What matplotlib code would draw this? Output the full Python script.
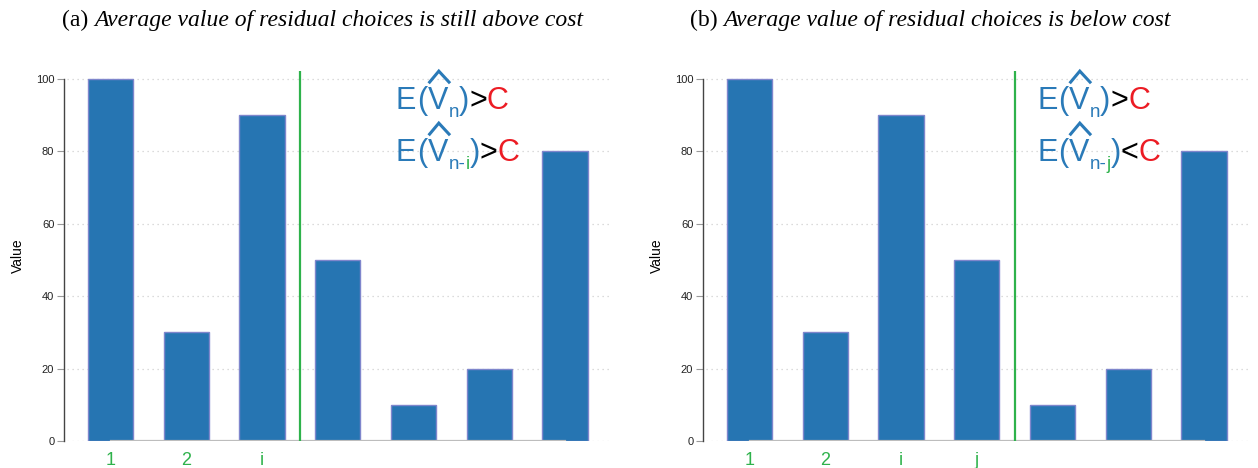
import matplotlib
matplotlib.use("Agg")
import matplotlib.pyplot as plt
from matplotlib.transforms import IdentityTransform
from matplotlib.lines import Line2D

# Values of the seven choices (same in both panels)
values_a = [100, 30, 90, 50, 10, 20, 80]
values_b = [100, 30, 90, 50, 10, 20, 80]
labels_a = ["1", "2", "i"]
labels_b = ["1", "2", "i", "j"]
cut_a = 2.5   # divider after the i-th choice
cut_b = 3.5   # divider after the j-th choice
yticks = [0, 20, 40, 60, 80, 100]

title_a = ("(a) ", "Average value of residual choices is still above cost")
title_b = ("(b) ", "Average value of residual choices is below cost")

BAR = "#2675b2"
EDGE = "#7f86cc"
GREEN = "#2eb24b"
BLUE = "#2a7ab8"
RED = "#ec1c24"

W, H, DPI = 1258, 468, 100
fig = plt.figure(figsize=(W / DPI, H / DPI), dpi=DPI)
plt.rcParams["font.family"] = ["Liberation Sans", "DejaVu Sans"]


def panel(left_px, values, labels, cut):
    ax = fig.add_axes([left_px / W, (H - 441) / H, 548 / W, 370 / H])
    x = list(range(len(values)))
    ax.bar(x, values, width=0.6, color=BAR, edgecolor=EDGE, linewidth=1.0, zorder=3)
    ax.set_xlim(-0.614, len(values) - 1 + 0.62)
    ax.set_ylim(0, 102.2)
    for v in yticks:
        ax.plot([-0.57, len(values) - 1 + 0.62], [v, v], ls=(0, (1, 3)),
                color="#d0d0d0", lw=0.9, zorder=1)
    ax.plot([0, len(values) - 1], [0, 0], color="#bdbdbd", lw=1.6, zorder=4)
    ax.axvline(cut, color=GREEN, lw=1.6, zorder=5)
    for s in ["top", "right", "bottom"]:
        ax.spines[s].set_visible(False)
    ax.spines["left"].set_bounds(0, 100)
    ax.spines["left"].set_color("#444444")
    ax.spines["left"].set_linewidth(1.0)
    ax.set_yticks(yticks)
    ax.tick_params(axis="y", length=5, width=0.8, color="#999999",
                   labelsize=8, labelcolor="#222222", pad=2)
    ax.set_xticks(range(len(labels)))
    ax.set_xticklabels(labels, color=GREEN, fontsize=13)
    ax.tick_params(axis="x", length=0, pad=8)
    ax.set_ylabel("Value", fontsize=10, labelpad=8)
    return ax


panel(64, values_a, labels_a, cut_a)
panel(703, values_b, labels_b, cut_b)

fig.canvas.draw()
renderer = fig.canvas.get_renderer()
ident = IdentityTransform()


def chain(x, y_top, pieces, family):
    """Draw text pieces one after another on a common baseline (pixel coords from top)."""
    placed = []
    for text, color, size, drop, style, kern in pieces:
        t = fig.text(x, H - (y_top + drop), text, transform=ident, fontsize=size,
                     color=color, va="baseline", ha="left", style=style,
                     family=family)
        bb = t.get_window_extent(renderer)
        placed.append((t, bb))
        x = bb.x1 + kern
    return placed


SERIF = ["Liberation Serif", "DejaVu Serif"]
SANS = ["Liberation Sans", "DejaVu Sans"]

for x0, (head, rest) in [(62, title_a), (690, title_b)]:
    chain(x0, 26, [(head, "black", 17, 0, "normal", 0),
                   (rest, "black", 17, 0, "italic", 0)], SERIF)


def formula(x0, base, sub_parts, rel):
    big = 22
    pieces = [("E", BLUE, big, 0, "normal", 1),
              ("(", BLUE, big, 0, "normal", 0),
              ("V", BLUE, big, 0, "normal", 0.5)]
    for txt, col in sub_parts:
        pieces.append((txt, col, 13.5, 8, "normal", 0))
    pieces += [(")", BLUE, big, 0, "normal", 0),
               (rel, "black", big, 0, "normal", 0),
               ("C", RED, big, 0, "normal", 0)]
    placed = chain(x0, base, pieces, SANS)
    vbb = placed[2][1]
    cap_top = H - base + 0.716 * big * DPI / 72
    y0 = cap_top + 5
    fig.add_artist(Line2D([vbb.x0 + 2, (vbb.x0 + vbb.x1) / 2 + 1, vbb.x1 + 1],
                          [y0, y0 + 11, y0], color=BLUE, lw=2.2,
                          transform=ident, solid_joinstyle="miter"))


formula(396, 109, [("n", BLUE)], ">")
formula(396, 161, [("n-", BLUE), ("i", GREEN)], ">")
formula(1037, 109, [("n", BLUE)], ">")
formula(1037, 161, [("n-", BLUE), ("j", GREEN)], "<")

fig.savefig("out.png", dpi=DPI)
